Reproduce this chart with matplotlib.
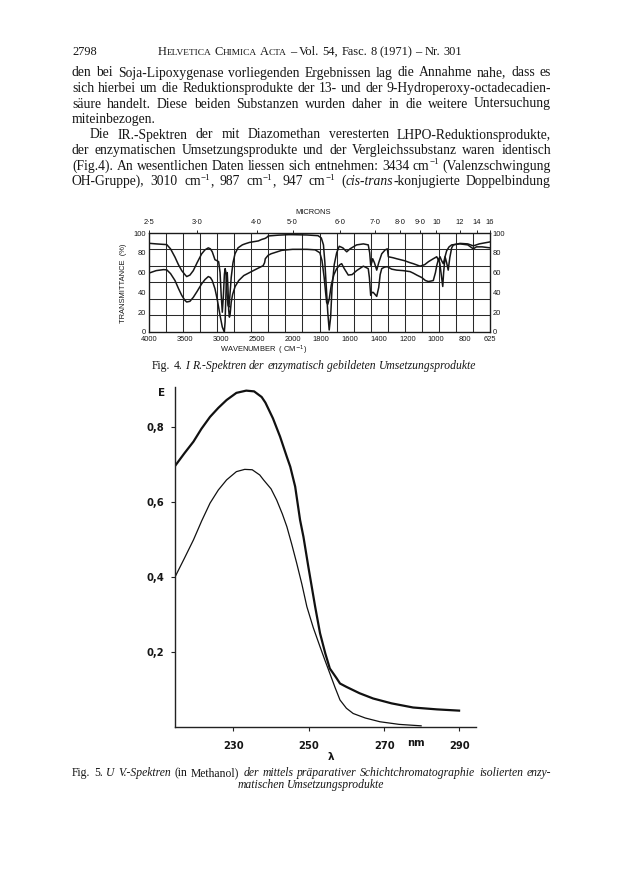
import numpy as np
import matplotlib
matplotlib.use("Agg")
import matplotlib.pyplot as plt

# ---------------- page text ----------------
page_number = "2798"
running_head = "H{ELVETICA} C{HIMICA} A{CTA} – Vol. 54, Fasc. 8 (1971) – Nr. 301"
body_lines = [
    "den bei Soja-Lipoxygenase vorliegenden Ergebnissen lag die Annahme nahe, dass es",
    "sich hierbei um die Reduktionsprodukte der 13- und der 9-Hydroperoxy-octadecadien-",
    "säure handelt. Diese beiden Substanzen wurden daher in die weitere Untersuchung",
    "miteinbezogen.",
    "Die IR.-Spektren der mit Diazomethan veresterten LHPO-Reduktionsprodukte,",
    "der enzymatischen Umsetzungsprodukte und der Vergleichssubstanz waren identisch",
    "(Fig.4). An wesentlichen Daten liessen sich entnehmen: 3434 cm^−1^ (Valenzschwingung",
    "OH-Gruppe), 3010 cm^−1^, 987 cm^−1^, 947 cm^−1^ (_cis-trans_-konjugierte Doppelbindung",
]
body_align = ["justify", "justify", "justify", "left", "indent", "justify", "justify", "justify"]
caption4 = "Fig. 4. _I R.-Spektren der enzymatisch gebildeten Umsetzungsprodukte_"
caption5_lines = [
    "Fig. 5. _U V.-Spektren_ (in Methanol) _der mittels präparativer Schichtchromatographie isolierten enzy-_",
    "_matischen Umsetzungsprodukte_",
]

# ---------------- IR spectrum (Fig. 4): wavenumber (cm-1) / transmittance (%) ----------------
ir_a_wn = [4000, 3900, 3800, 3753, 3700, 3638, 3590, 3544, 3500, 3475, 3430, 3383, 3330, 3266,
           3220, 3174, 3145, 3119, 3095, 3081, 3053, 3030, 3010, 2995, 2979, 2965, 2950, 2940,
           2928, 2915, 2900, 2888, 2875, 2855, 2830, 2802, 2760, 2700, 2664, 2600, 2477, 2430,
           2384, 2360, 2340, 2200, 2060, 2000, 1900, 1823, 1800, 1785, 1775, 1765, 1755, 1745,
           1735, 1725, 1710, 1693, 1675, 1650, 1623, 1600, 1554, 1507, 1473, 1463, 1456, 1449,
           1442, 1430, 1414, 1400, 1379, 1355, 1340, 1333, 1300, 1275, 1220, 1182, 1159, 1112,
           1080, 1054, 1020, 996, 975, 962, 954, 948, 938, 927, 916, 905, 892, 880, 834, 780,
           741, 700, 625]
ir_a_t = [89.6, 89, 88.5, 88.3, 84, 75.6, 68, 62, 58, 56, 57.5, 62, 70, 79,
          83, 85, 84, 81, 76, 73, 72, 71, 60, 38, 20, 35, 58, 64,
          60, 40, 27, 25, 35, 55, 70, 79, 85, 88, 89, 90.5, 92, 93.5,
          94.5, 95.5, 97, 97.8, 98.3, 98.3, 98, 97.3, 95, 88, 70, 45, 20, 2,
          15, 45, 68, 80, 86.6, 85, 81, 84, 88, 89, 88, 80, 67.5, 70,
          74, 70, 62.5, 70, 79, 83, 84, 76, 75, 74, 72, 70, 69, 66.5,
          68, 71, 74, 76, 70, 55, 46, 60, 76, 70, 62.5, 75, 85, 88, 89.5, 89,
          87, 89, 91]
ir_b_wn = [4000, 3900, 3800, 3753, 3700, 3638, 3590, 3544, 3500, 3475, 3430, 3383, 3330, 3266,
           3220, 3174, 3145, 3119, 3081, 3047, 3011, 2979, 2951, 2940, 2930, 2920, 2910, 2900,
           2890, 2880, 2870, 2855, 2835, 2800, 2750, 2680, 2600, 2520, 2410, 2390, 2380, 2340,
           2300, 2150, 2000, 1900, 1843, 1810, 1795, 1780, 1770, 1763, 1755, 1745, 1730, 1712,
           1693, 1670, 1658, 1640, 1612, 1585, 1554, 1507, 1473, 1465, 1456, 1447, 1438, 1426,
           1414, 1400, 1390, 1379, 1360, 1340, 1310, 1275, 1230, 1182, 1160, 1135, 1100, 1075,
           1054, 1035, 1020, 1005, 996, 985, 973, 962, 950, 940, 927, 910, 892, 834, 780, 741,
           720, 680, 625]
ir_b_t = [59.5, 62, 63, 62.8, 59, 52, 44, 37, 32, 30.3, 31, 35, 41, 48.7,
          53, 56, 55, 52, 43.7, 32, 17, 5, 0, 10, 35, 55, 60, 45,
          22, 15, 18, 30, 38, 46, 52, 57, 60, 63, 67, 70, 74, 77.5,
          79, 82.5, 83.5, 83.5, 83, 80, 72, 55, 40, 30, 28, 33, 48, 58,
          64, 68, 69, 64, 57.5, 58, 62, 66.5, 64, 55, 37, 40, 40, 38,
          36, 45, 58, 64, 65.5, 66, 63.5, 62.5, 62, 61, 59.5, 57.5, 55, 52,
          51, 51.5, 52, 60, 67, 73, 76, 72, 69, 75, 82, 86, 88, 89, 88, 84,
          86, 86, 85]
ir_wn_ticks = [4000, 3500, 3000, 2500, 2000, 1800, 1600, 1400, 1200, 1000, 800, 625]
ir_micron_ticks = [2.5, 3.0, 4.0, 5.0, 6.0, 7.0, 8.0, 9.0, 10, 12, 14, 16]
ir_micron_labels = ["2·5", "3·0", "4·0", "5·0", "6·0", "7·0", "8·0", "9·0", "10", "12", "14", "16"]
ir_t_ticks = [0, 20, 40, 60, 80, 100]

# ---------------- UV spectra (Fig. 5): wavelength (nm) / extinction ----------------
uv_upper_wl = [214.5, 217, 219.4, 221.5, 223.8, 226, 228.2, 230.8, 233.4, 235.5, 237.5, 238.5,
               240.5, 242.4, 243.3, 244.2, 245.1, 246.4, 247.7, 248.6, 249.9, 250.8, 251.7, 253,
               254.4, 255.6, 257.4, 258.3, 260, 263.5, 267.1, 272, 277.7, 284, 290.2]
uv_upper_e = [0.696, 0.730, 0.761, 0.795, 0.827, 0.851, 0.872, 0.891, 0.897, 0.895, 0.880, 0.865,
              0.823, 0.774, 0.747, 0.720, 0.694, 0.641, 0.552, 0.507, 0.427, 0.374, 0.321, 0.250,
              0.196, 0.156, 0.130, 0.116, 0.107, 0.090, 0.076, 0.063, 0.052, 0.047, 0.0435]
uv_lower_wl = [214.5, 217, 219.4, 221.6, 223.8, 226, 228.2, 230.8, 233, 235, 237, 238,
               240, 241.5, 243, 244.2, 245.5, 246.8, 248.2, 249.5, 251.2, 253, 254.3, 255.6,
               257, 258.3, 260, 261.8, 265, 268.9, 274, 280]
uv_lower_e = [0.400, 0.450, 0.499, 0.550, 0.597, 0.632, 0.659, 0.681, 0.687, 0.686, 0.672, 0.659,
              0.635, 0.605, 0.568, 0.534, 0.487, 0.437, 0.380, 0.321, 0.265, 0.214, 0.178, 0.143,
              0.105, 0.072, 0.050, 0.036, 0.024, 0.014, 0.007, 0.003]
uv_x_ticks = [230, 250, 270, 290]
uv_y_ticks = [0.2, 0.4, 0.6, 0.8]
uv_y_labels = ["0,2", "0,4", "0,6", "0,8"]

# =====================================================================
W, H = 624, 888
fig = plt.figure(figsize=(W / 100, H / 100), dpi=100)
fig.patch.set_facecolor("white")
renderer = fig.canvas.get_renderer()
SERIF = ["Liberation Serif", "DejaVu Serif"]
INK = "#161616"


def parse(line, state):
    words = []
    for w in line.split(" "):
        if not w:
            continue
        segs, cur = [], ""
        for ch in w:
            if ch in "_{}^":
                if cur:
                    segs.append((cur, state["it"], state["sc"], state["sup"]))
                    cur = ""
                if ch == "_":
                    state["it"] = not state["it"]
                elif ch == "^":
                    state["sup"] = not state["sup"]
                elif ch == "{":
                    state["sc"] = True
                else:
                    state["sc"] = False
            else:
                cur += ch
        if cur:
            segs.append((cur, state["it"], state["sc"], state["sup"]))
        words.append(segs)
    return words


def new_state():
    return {"it": False, "sc": False, "sup": False}


def make_text(s, it, sc, sup, fs, y):
    size = fs * (0.76 if sc else 1.0) * (0.66 if sup else 1.0)
    yy = y - (fs * 100 / 72 * 0.40 if sup else 0)
    return fig.text(0, 1 - yy / H, s, fontsize=size,
                    fontstyle="italic" if it else "normal", family=SERIF,
                    va="baseline", ha="left", color=INK)


def width(t):
    return t.get_window_extent(renderer).width


def space_width(fs):
    a = fig.text(0, 0, "x x", fontsize=fs, family=SERIF)
    b = fig.text(0, 0, "xx", fontsize=fs, family=SERIF)
    s = width(a) - width(b)
    a.remove()
    b.remove()
    return s


def draw_line(line, y, fs, x0, x1=None, align="left", state=None, xc=None):
    if state is None:
        state = new_state()
    words = parse(line, state)
    items = []
    for w in words:
        segs = []
        for s, it, sc, sup in w:
            t = make_text(s, it, sc, sup, fs, y)
            segs.append((t, width(t)))
        items.append(segs)
    ww = [sum(wd for _, wd in segs) for segs in items]
    gap = space_width(fs)
    if align == "justify" and len(ww) > 1:
        gap = (x1 - x0 - sum(ww)) / (len(ww) - 1)
    total = sum(ww) + gap * (len(ww) - 1)
    x = x0 if align != "center" else xc - total / 2
    for segs in items:
        for t, wd in segs:
            t.set_x(x / W)
            x += wd
        x += gap


def natural_width(line, fs, state=None):
    st = new_state() if state is None else dict(state)
    words = parse(line, st)
    tot = 0
    for w in words:
        for s, it, sc, sup in w:
            t = make_text(s, it, sc, sup, fs, 0)
            tot += width(t)
            t.remove()
    return tot + space_width(fs) * (len(words) - 1)


# ---- text block geometry
X0, X1 = 72, 551
nat = [natural_width(l, 10) for l, a in zip(body_lines, body_align) if a == "justify"]
FS = 10 * (X1 - X0) * 0.99 / max(nat)

# running head
head_fs = 10 * (462 - 158) / natural_width(running_head, 10)
fig.text(X0 / W, 1 - 55 / H, page_number, fontsize=head_fs, family=SERIF, va="baseline", color=INK)
draw_line(running_head, 55, head_fs, 158, 462, "justify")

# body
for i, (line, al) in enumerate(zip(body_lines, body_align)):
    y = 76.5 + i * 15.5
    if al == "justify":
        draw_line(line, y, FS, X0, X1, "justify")
    elif al == "indent":
        draw_line(line, y, FS, X0 + 18, X1, "justify")
    else:
        draw_line(line, y, FS, X0, align="left")

# ---------------- Fig. 4 : IR ----------------
def ir_fwd(w):
    w = np.asarray(w, dtype=float)
    return np.where(w >= 2000, w, 2 * w - 2000)


def ir_inv(u):
    u = np.asarray(u, dtype=float)
    return np.where(u >= 2000, u, (u + 2000) / 2)


IRFS = 5.4
L, R, T, B = 149, 490, 233, 332
ax1 = fig.add_axes([L / W, 1 - B / H, (R - L) / W, (B - T) / H])
ax1.set_xscale("function", functions=(ir_fwd, ir_inv))
ax1.set_xlim(4000, 625)
ax1.set_ylim(0, 100)
grid_w = ir_inv(np.linspace(ir_fwd(4000), ir_fwd(625), 21))[1:-1]
ax1.set_xticks(grid_w, minor=True)
ax1.set_yticks(np.linspace(0, 100, 7)[1:-1], minor=True)
ax1.grid(which="minor", color="#2a2a2a", lw=0.75)
ax1.set_xticks(ir_wn_ticks)
ax1.set_xticklabels([str(v) for v in ir_wn_ticks])
ax1.set_yticks(ir_t_ticks)
ax1.set_yticklabels([str(v) for v in ir_t_ticks])
ax1.tick_params(which="both", length=0)
ax1.tick_params(axis="x", labelsize=IRFS, pad=3.0, labelcolor=INK)
ax1.tick_params(axis="y", labelsize=IRFS, pad=2.0, labelcolor=INK, right=True, labelright=True)
for lab in ax1.get_xticklabels() + ax1.get_yticklabels():
    lab.set_family("Liberation Sans")
for s in ax1.spines.values():
    s.set_color("#1a1a1a")
    s.set_linewidth(1.0)
ax1.plot(ir_a_wn, ir_a_t, color=INK, lw=1.1)
ax1.plot(ir_b_wn, ir_b_t, color=INK, lw=1.1)

ax1t = ax1.twiny()
ax1t.set_xscale("function", functions=(ir_fwd, ir_inv))
ax1t.set_xlim(4000, 625)
ax1t.set_xticks([10000.0 / m for m in ir_micron_ticks])
ax1t.set_xticklabels(ir_micron_labels)
ax1t.xaxis.set_minor_locator(matplotlib.ticker.NullLocator())
ax1t.tick_params(axis="x", length=2.0, width=0.7, direction="out", labelsize=IRFS, pad=3.0,
                 labelcolor=INK, color="#222222")
for lab in ax1t.get_xticklabels():
    lab.set_family("Liberation Sans")
for s in ax1t.spines.values():
    s.set_visible(False)

fig.text(313 / W, 1 - 212 / H, "MICRONS", fontsize=IRFS, family="Liberation Sans",
         ha="center", va="center", color=INK)
fig.text(264 / W, 1 - 350 / H, "WAVENUMBER  ( CM$^{-1}$)", fontsize=IRFS,
         family="Liberation Sans", ha="center", va="center", color=INK)
fig.text(124 / W, 1 - 283 / H, "TRANSMITTANCE  (%)", fontsize=IRFS, family="Liberation Sans",
         ha="center", va="center", rotation=90, color=INK)

# captions share one size, set so that the first line of Fig. 5 fills the text block
cap_fs = 10 * (X1 - X0) * 0.985 / natural_width(caption5_lines[0], 10)
draw_line(caption4, 369, cap_fs, 0, align="center", xc=314)

# ---------------- Fig. 5 : UV ----------------
L2, R2, T2, B2 = 175, 476, 387, 727
ax2 = fig.add_axes([L2 / W, 1 - B2 / H, (R2 - L2) / W, (B2 - T2) / H])
ax2.set_xlim(214.5, 294.4)
ax2.set_ylim(0, (B2 - T2) / 375.0)
ax2.plot(uv_upper_wl, uv_upper_e, color="#111111", lw=1.6, solid_capstyle="butt")
ax2.plot(uv_lower_wl, uv_lower_e, color="#111111", lw=0.9, solid_capstyle="butt")
for k in ("top", "right"):
    ax2.spines[k].set_visible(False)
for k in ("left", "bottom"):
    ax2.spines[k].set_linewidth(1.0)
    ax2.spines[k].set_color("#222222")
ax2.set_xticks(uv_x_ticks)
ax2.set_xticklabels([str(v) for v in uv_x_ticks])
ax2.set_yticks(uv_y_ticks)
ax2.set_yticklabels(uv_y_labels)
ax2.tick_params(axis="both", length=3, width=0.8, direction="out", color="#222222",
                labelsize=7.2, labelcolor=INK)
ax2.tick_params(axis="x", pad=7)
ax2.tick_params(axis="y", pad=5)
for lab in ax2.get_xticklabels() + ax2.get_yticklabels():
    lab.set_family("DejaVu Sans")
    lab.set_fontweight("bold")
fig.text(162 / W, 1 - 393 / H, "E", fontsize=7.5, family="DejaVu Sans", weight="bold",
         ha="center", va="center", color=INK)
fig.text(416 / W, 1 - 743 / H, "nm", fontsize=7.2, family="DejaVu Sans", weight="bold",
         ha="center", va="center", color=INK)
fig.text(331 / W, 1 - 757 / H, "λ", fontsize=7.5, family="DejaVu Sans", weight="bold",
         ha="center", va="center", color=INK)

cap_state = new_state()
draw_line(caption5_lines[0], 776, cap_fs, X0, X1, "justify", state=cap_state)
draw_line(caption5_lines[1], 788, cap_fs, 0, align="center", xc=311, state=cap_state)

fig.savefig("out.png", dpi=100, facecolor="white")
